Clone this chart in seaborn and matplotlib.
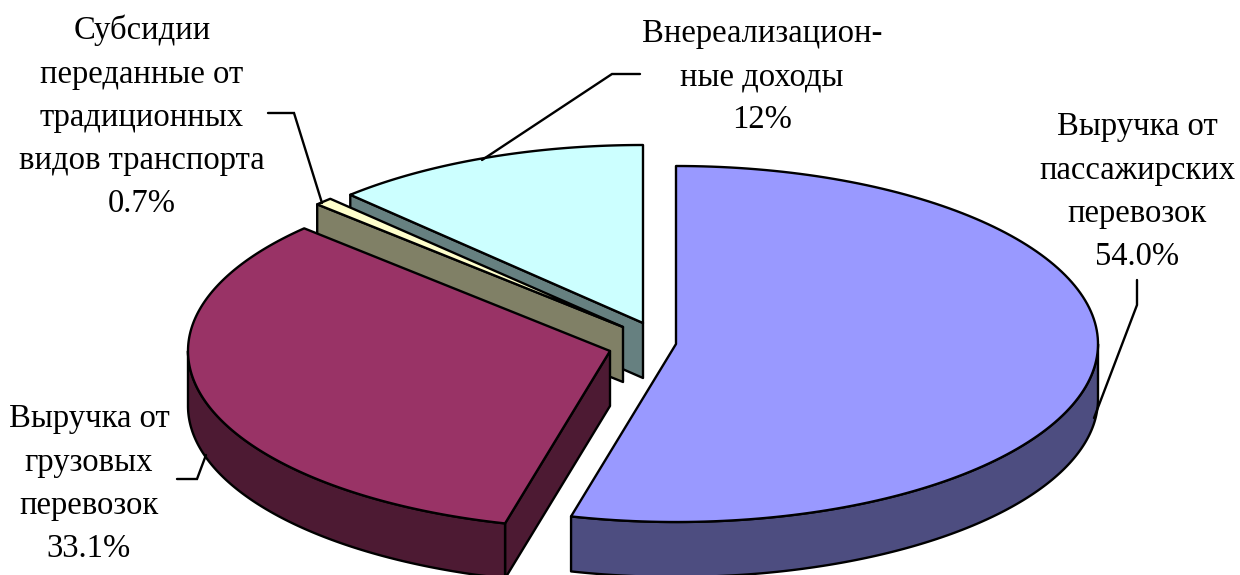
import numpy as np
import pandas as pd
import seaborn as sns
import matplotlib
matplotlib.use("Agg")
import matplotlib.pyplot as plt
from matplotlib.patches import Polygon

sns.set_theme(style="white")
plt.rcParams['font.family'] = ['Liberation Serif', 'DejaVu Serif']

names = ["Выручка от\nпассажирских\nперевозок", "Выручка от\nгрузовых\nперевозок",
         "Субсидии\nпереданные от\nтрадиционных\nвидов транспорта", "Внереализацион-\nные доходы"]
values = [54.0, 33.1, 0.7, 12.2]
shown = ["54.0%", "33.1%", "0.7%", "12%"]
top_colors = ["#9999FF", "#993366", "#FFFFCC", "#CCFFFF"]
side_colors = ["#4D4D80", "#4D1A33", "#808066", "#668080"]
apex_x = [676, 610, 623, 643]
apex_y = [344, 351, 327, 323]
label_x = [1137, 89, 142, 762]
label_y = [192, 484, 117, 77]

df = pd.DataFrame({"name": names, "value": values, "shown": shown, "top": top_colors,
                   "side": side_colors, "ax": apex_x, "ay": apex_y, "lx": label_x, "ly": label_y})
ends = np.cumsum(df["value"]) / df["value"].sum() * 360
df["start"] = np.r_[0, ends[:-1]]
df["end"] = ends

A, B, DEPTH = 422, 178, 55
LW = 1.7

fig = plt.figure(figsize=(12.4, 5.75), dpi=100)
ax = fig.add_axes([0, 0, 1, 1])
ax.set_xlim(0, 1240)
ax.set_ylim(575, 0)
ax.axis("off")
sns.despine(ax=ax, left=True, bottom=True)


def rim(cx, cy, t0, t1):
    t = np.radians(np.linspace(t0, t1, 160))
    return np.c_[cx + A * np.sin(t), cy - B * np.cos(t)]


def poly(pts, fc, z):
    ax.add_patch(Polygon(pts, closed=True, fc=fc, ec="black", lw=LW, joinstyle="round", zorder=z))


for i in [3, 2, 1, 0]:
    s = df.iloc[i]
    z = 10 - i * 2 if i > 1 else 10 + (1 - i) * 2
    apex = np.array([[s.ax, s.ay]])
    down = np.array([0, DEPTH])
    if s.start > 180:
        edge = rim(s.ax, s.ay, s.start, s.start)[:1]
        poly(np.vstack([apex, edge, edge + down, apex + down]), s.side, z)
    t0, t1 = max(s.start, 90), min(s.end, 270)
    if t1 > t0:
        arc = rim(s.ax, s.ay, t0, t1)
        poly(np.vstack([arc, (arc + down)[::-1]]), s.side, z)
    poly(np.vstack([apex, rim(s.ax, s.ay, s.start, s.end)]), s.top, z + 0.5)

for _, s in df.iterrows():
    ax.text(s.lx, s.ly, f"{s['name']}\n{s.shown}", ha="center", va="center",
            fontsize=23.5, color="black", linespacing=1.54, zorder=30)

leaders = [([1137, 1137, 1094], [280, 305, 418]),
           ([177, 197, 206], [479, 479, 455]),
           ([268, 294, 322], [113, 113, 203]),
           ([640, 612, 482], [74, 74, 160])]
for lx, ly in leaders:
    ax.plot(lx, ly, color="black", lw=LW, zorder=25, solid_joinstyle="miter")

fig.savefig("out.png", dpi=100, facecolor="white")
